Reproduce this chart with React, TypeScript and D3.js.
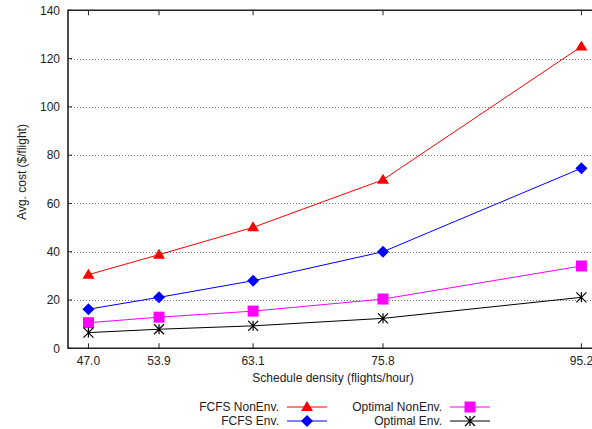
import React, { useEffect, useRef } from "react";
import * as d3 from "d3";

const densities = [47.0, 53.9, 63.1, 75.8, 95.2];
const fcfsNonEnv = [30.5, 38.8, 50.1, 69.8, 125];
const fcfsEnv = [16.2, 21.1, 28.0, 40.0, 74.6];
const optNonEnv = [10.6, 12.9, 15.4, 20.4, 34.1];
const optEnv = [6.5, 7.9, 9.3, 12.4, 21.1];
const yTicks = [0, 20, 40, 60, 80, 100, 120, 140];

const seriesList = [
  { name: "FCFS NonEnv.", values: fcfsNonEnv, color: "#ff0000", marker: "triangle" },
  { name: "FCFS Env.", values: fcfsEnv, color: "#0000ff", marker: "diamond" },
  { name: "Optimal NonEnv.", values: optNonEnv, color: "#ff00ff", marker: "square" },
  { name: "Optimal Env.", values: optEnv, color: "#000000", marker: "star" },
];

const W = 592, H = 429;
const font = "'Liberation Sans', Arial, Helvetica, sans-serif";

function drawMarker(g: any, kind: string, cx: number, cy: number, color: string) {
  if (kind === "triangle") {
    g.append("path").attr("d", `M${cx},${cy - 6}L${cx + 6},${cy + 4}L${cx - 6},${cy + 4}Z`).attr("fill", color);
  } else if (kind === "diamond") {
    g.append("path").attr("d", `M${cx},${cy - 6}L${cx + 6},${cy}L${cx},${cy + 6}L${cx - 6},${cy}Z`).attr("fill", color);
  } else if (kind === "square") {
    g.append("rect").attr("x", cx - 5.5).attr("y", cy - 5.5).attr("width", 11).attr("height", 11).attr("fill", color);
  } else {
    const s = 5;
    g.append("path")
      .attr("d", `M${cx},${cy - s}V${cy + s}M${cx - s},${cy - s}L${cx + s},${cy + s}M${cx - s},${cy + s}L${cx + s},${cy - s}`)
      .attr("stroke", color).attr("stroke-width", 1.2).attr("fill", "none");
  }
}

export default function App() {
  const ref = useRef<SVGSVGElement>(null);

  useEffect(() => {
    const svg = d3.select(ref.current);
    svg.selectAll("*").remove();

    const x = d3.scaleLinear().domain([45, 100]).range([68, 630.5]);
    const y = d3.scaleLinear().domain([0, 140]).range([348.3, 10.3]);
    const x0 = x(45), x1 = x(100), yb = y(0), yt = y(140);

    // grid
    svg.append("g").selectAll("line").data(yTicks.filter(t => t > 0 && t < 140)).join("line")
      .attr("x1", x0).attr("x2", x1).attr("y1", d => Math.round(y(d)) + 0.5).attr("y2", d => Math.round(y(d)) + 0.5)
      .attr("stroke", "#777").attr("stroke-width", 1).attr("stroke-dasharray", "1,2");

    // y ticks and labels
    const yg = svg.append("g");
    yg.selectAll("line").data(yTicks).join("line")
      .attr("x1", x0).attr("x2", x0 + 4).attr("y1", d => y(d)).attr("y2", d => y(d))
      .attr("stroke", "#222").attr("stroke-width", 1);
    yg.selectAll("text").data(yTicks).join("text")
      .attr("x", 60).attr("y", d => y(d)).attr("dy", "0.35em").attr("text-anchor", "end")
      .attr("font-family", font).attr("font-size", 12).attr("fill", "#222").text(d => d);

    // x ticks and labels
    const xg = svg.append("g");
    xg.selectAll("line.b").data(densities).join("line").attr("class", "b")
      .attr("x1", d => x(d)).attr("x2", d => x(d)).attr("y1", yb).attr("y2", yb - 5)
      .attr("stroke", "#222").attr("stroke-width", 1);
    xg.selectAll("line.t").data(densities).join("line").attr("class", "t")
      .attr("x1", d => x(d)).attr("x2", d => x(d)).attr("y1", yt).attr("y2", yt + 5)
      .attr("stroke", "#222").attr("stroke-width", 1);
    xg.selectAll("text").data(densities).join("text")
      .attr("x", d => x(d)).attr("y", 365).attr("text-anchor", "middle")
      .attr("font-family", font).attr("font-size", 12).attr("fill", "#222").text(d => d.toFixed(1));

    // frame
    svg.append("path")
      .attr("d", `M${x1},${yt}H${x0}V${yb}H${x1}`)
      .attr("fill", "none").attr("stroke", "#222").attr("stroke-width", 1.6);

    // series
    const line = d3.line<number>().x((_, i) => x(densities[i])).y(d => y(d));
    seriesList.forEach(s => {
      const g = svg.append("g");
      g.append("path").attr("d", line(s.values)).attr("fill", "none").attr("stroke", s.color).attr("stroke-width", 1);
      s.values.forEach((v, i) => drawMarker(g, s.marker, x(densities[i]), y(v), s.color));
    });

    // axis titles
    svg.append("text").attr("x", 333).attr("y", 382).attr("text-anchor", "middle")
      .attr("font-family", font).attr("font-size", 12).attr("fill", "#222").text("Schedule density (flights/hour)");
    svg.append("text").attr("transform", "translate(26,172) rotate(-90)").attr("text-anchor", "middle")
      .attr("font-family", font).attr("font-size", 12).attr("fill", "#222").text("Avg. cost ($/flight)");

    // legend
    const cols = [
      { textX: 279, lineX: 287 },
      { textX: 442, lineX: 450 },
    ];
    const rows = [407, 421];
    seriesList.forEach((s, i) => {
      const c = cols[Math.floor(i / 2)];
      const ry = rows[i % 2];
      const g = svg.append("g");
      g.append("text").attr("x", c.textX).attr("y", ry).attr("dy", "0.35em").attr("text-anchor", "end")
        .attr("font-family", font).attr("font-size", 12).attr("fill", "#222").text(s.name);
      g.append("line").attr("x1", c.lineX).attr("x2", c.lineX + 40).attr("y1", ry).attr("y2", ry)
        .attr("stroke", s.color).attr("stroke-width", 1);
      drawMarker(g, s.marker, c.lineX + 20, ry, s.color);
    });
  }, []);

  return (
    <svg ref={ref} width={W} height={H}
      style={{ position: "absolute", left: 0, top: 0, background: "#fff" }} />
  );
}
